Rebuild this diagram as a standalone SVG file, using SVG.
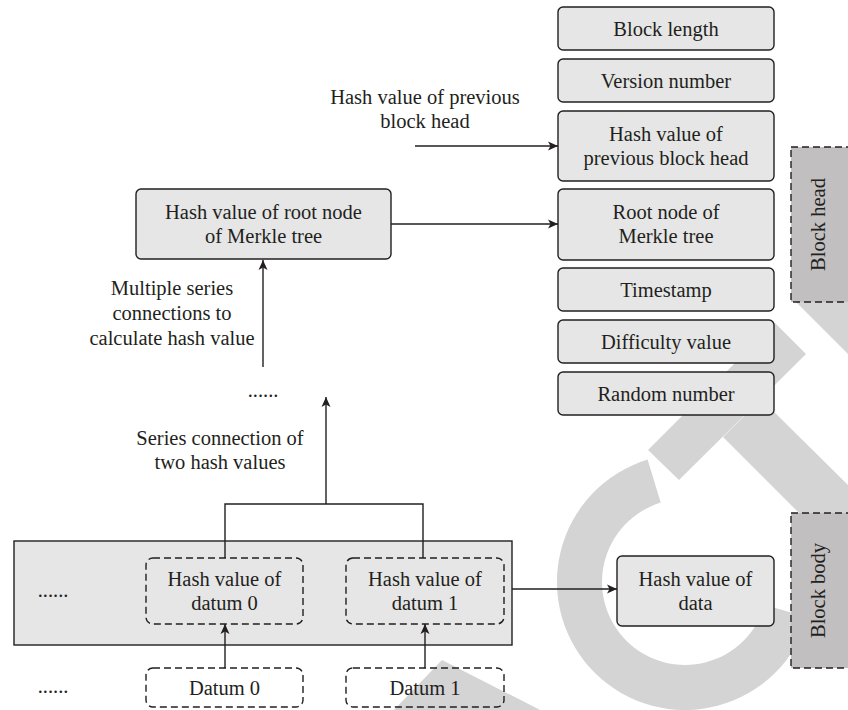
<svg xmlns="http://www.w3.org/2000/svg" width="848" height="710" viewBox="0 0 848 710">
  <style>
    text { font-family: "Liberation Serif", "Times New Roman", serif; font-size: 20.5px; fill: #231f20; text-anchor: middle; dominant-baseline: central; }
    .box { fill: #e6e6e6; stroke: #231f20; stroke-width: 1.4; }
    .dash { fill: none; stroke: #231f20; stroke-width: 1.4; stroke-dasharray: 7 4; }
    .band { fill: #c1bfbf; stroke: #231f20; stroke-width: 1.4; stroke-dasharray: 7 4; }
    .wm { fill: #d4d4d4; }
    .line { fill: none; stroke: #231f20; stroke-width: 1.4; }
    .arrow { fill: none; stroke: #231f20; stroke-width: 1.4; marker-end: url(#tip); }
  </style>
  <defs>
    <marker id="tip" viewBox="0 0 10 10" refX="10" refY="5" markerWidth="10" markerHeight="10" markerUnits="userSpaceOnUse" orient="auto">
      <path d="M0,0.5 L10,5 L0,9.5 L2.5,5 Z" fill="#231f20"/>
    </marker>
  </defs>

  <rect width="848" height="710" fill="#ffffff"/>

  <!-- background watermark shapes -->
  <g id="watermark">
    <path class="wm" d="M647.6 459.6 A128 128 0 1 0 808 617.3 L764.8 604.9 A83 83 0 1 1 660.7 502.6 Z"/>
    <polygon class="wm" points="648,450 679,480 806,354 775,323"/>
    <polygon class="wm" points="723,437 761,399 848,485 848,562"/>
    <polygon class="wm" points="791,297 848,297 848,354"/>
    <polygon class="wm" points="442,660 548,714 390,714"/>
  </g>

  <!-- block head fields -->
  <g id="block-length"><rect class="box" x="558" y="7" width="216" height="43" rx="5"/><text x="666" y="28.5">Block length</text></g>
  <g id="version-number"><rect class="box" x="558" y="59" width="216" height="43" rx="5"/><text x="666" y="80.5">Version number</text></g>
  <g id="prev-hash"><rect class="box" x="558" y="111" width="216" height="70" rx="5"/><text x="666" y="134">Hash value of</text><text x="666" y="158">previous block head</text></g>
  <g id="merkle-root-field"><rect class="box" x="558" y="189" width="216" height="71" rx="5"/><text x="666" y="212">Root node of</text><text x="666" y="236">Merkle tree</text></g>
  <g id="timestamp"><rect class="box" x="558" y="268" width="216" height="43" rx="5"/><text x="666" y="289.5">Timestamp</text></g>
  <g id="difficulty"><rect class="box" x="558" y="320" width="216" height="43" rx="5"/><text x="666" y="341.5">Difficulty value</text></g>
  <g id="random-number"><rect class="box" x="558" y="372" width="216" height="43" rx="5"/><text x="666" y="393.5">Random number</text></g>

  <!-- side bands -->
  <g id="block-head-band"><rect class="band" x="791" y="147" width="70" height="155"/><text transform="translate(818,224.5) rotate(-90)" x="0" y="0">Block head</text></g>
  <g id="block-body-band"><rect class="band" x="791" y="513" width="70" height="155"/><text transform="translate(818,590.5) rotate(-90)" x="0" y="0">Block body</text></g>

  <!-- merkle root -->
  <g id="merkle-root"><rect class="box" x="136" y="189" width="255" height="70" rx="5"/><text x="263.5" y="212">Hash value of root node</text><text x="263.5" y="236">of Merkle tree</text></g>

  <!-- block body -->
  <g id="body-container"><rect class="box" x="14" y="541" width="498" height="104"/><text x="53" y="590">......</text></g>
  <g id="hash-datum-0"><rect class="dash" x="146" y="558" width="157" height="66" rx="7"/><text x="224.5" y="579">Hash value of</text><text x="224.5" y="603">datum 0</text></g>
  <g id="hash-datum-1"><rect class="dash" x="346" y="558" width="158" height="66" rx="7"/><text x="425" y="579">Hash value of</text><text x="425" y="603">datum 1</text></g>
  <g id="datum-0"><rect class="dash" x="146" y="668" width="157" height="39" rx="7"/><text x="224.5" y="687.5">Datum 0</text></g>
  <g id="datum-1"><rect class="dash" x="346" y="668" width="158" height="39" rx="7"/><text x="425" y="687.5">Datum 1</text></g>
  <g id="datum-ellipsis"><text x="53" y="686">......</text></g>
  <g id="data-hash"><rect class="box" x="617" y="556" width="157" height="70" rx="5"/><text x="695.5" y="579">Hash value of</text><text x="695.5" y="603">data</text></g>

  <!-- labels -->
  <g id="labels">
    <text x="425" y="97">Hash value of previous</text>
    <text x="425" y="121">block head</text>
    <text x="172" y="288">Multiple series</text>
    <text x="172" y="313">connections to</text>
    <text x="172" y="338">calculate hash value</text>
    <text x="263" y="390">......</text>
    <text x="220" y="438">Series connection of</text>
    <text x="220" y="462">two hash values</text>
  </g>

  <!-- connectors -->
  <g id="connectors">
    <line class="arrow" x1="415" y1="146" x2="558" y2="146"/>
    <line class="arrow" x1="391" y1="224" x2="558" y2="224"/>
    <line class="arrow" x1="263" y1="367" x2="263" y2="260"/>
    <line class="arrow" x1="326" y1="504" x2="326" y2="397"/>
    <polyline class="line" points="225,558 225,504 423,504 423,558"/>
    <line class="arrow" x1="225" y1="668" x2="225" y2="624"/>
    <line class="arrow" x1="425" y1="668" x2="425" y2="624"/>
    <line class="arrow" x1="512" y1="589" x2="617" y2="589"/>
  </g>
</svg>
